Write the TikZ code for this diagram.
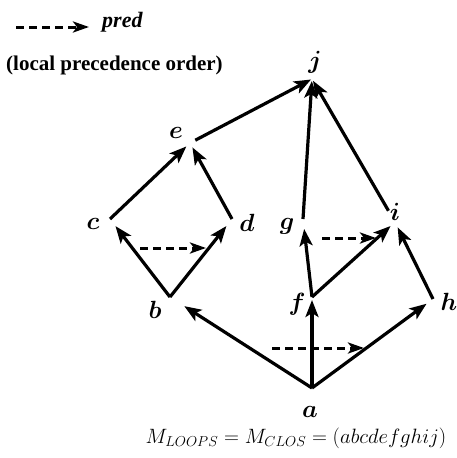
\documentclass[tikz,border=0pt]{standalone}
\usepackage{bm}
\usepackage{fontspec}
\newfontfamily\legendfont{Liberation Serif}
\usetikzlibrary{arrows.meta}
\begin{document}
\begin{tikzpicture}[x=1pt,y=-1pt,
  edge/.style={line width=3.2pt,-{Stealth[length=17pt,width=13pt,inset=4pt]}},
  predge/.style={line width=3pt,dash pattern=on 8pt off 5pt,-{Stealth[length=16pt,width=11pt,inset=4pt]}},
  lab/.style={inner sep=0pt,font=\fontsize{23}{25}\selectfont},
  legtext/.style={inner sep=0pt,anchor=west,font=\fontsize{21}{24}\selectfont\legendfont\bfseries}]
\useasboundingbox (0,0) rectangle (456,458);
% vertices
\coordinate (a) at (312,388);
\coordinate (b) at (170,297);
\coordinate (c) at (110,219);
\coordinate (d) at (232,219);
\coordinate (e) at (190,143);
\coordinate (f) at (312,297);
\coordinate (g) at (303,219);
\coordinate (h) at (433,299);
\coordinate (i) at (395,222);
\coordinate (j) at (312,79);
% labels
\node[lab] (la) at (310,412) {$\bm{a}$};
\node[lab] (lb) at (155,310) {$\bm{b}$};
\node[lab] (lc) at (93,224) {$\bm{c}$};
\node[lab] (ld) at (247,223) {$\bm{d}$};
\node[lab] (le) at (176,133) {$\bm{e}$};
\node[lab] (lf) at (297,304) {$\bm{f}$};
\node[lab] (lg) at (287,226) {$\bm{g}$};
\node[lab] (lh) at (449,302) {$\bm{h}$};
\node[lab] (li) at (395,212) {$\bm{i}$};
\node[lab] (lj) at (315,62) {$\bm{j}$};
% edges
\draw[edge,shorten >=17pt] (a) -- (b);
\draw[edge,shorten >=3pt] (a) -- (f);
\draw[edge,shorten >=8pt] (a) -- (h);
\draw[edge,shorten >=9pt] (b) -- (c);
\draw[edge,shorten >=9pt] (b) -- (d);
\draw[edge,shorten >=5pt] (c) -- (e);
\draw[edge,shorten >=5pt] (d) -- (e);
\draw[edge,shorten <=6pt,shorten >=1pt] (e) -- (j);
\draw[edge,shorten >=10pt] (f) -- (g);
\draw[edge,shorten >=6pt] (f) -- (i);
\draw[edge,shorten >=6pt] (h) -- (i);
\draw[edge,shorten >=2pt] (g) -- (j);
\draw[edge,shorten <=13pt,shorten >=2pt] (i) -- (j);
% pred (dashed) arrows
\coordinate (cd1) at (140,248); \coordinate (cd2) at (206,248);
\coordinate (gi1) at (322,238); \coordinate (gi2) at (376,238);
\coordinate (ah1) at (272,348); \coordinate (ah2) at (364,348);
\draw[predge] (cd1) -- (cd2);
\draw[predge] (gi1) -- (gi2);
\draw[predge] (ah1) -- (ah2);
% legend
\coordinate (lg1) at (16,27); \coordinate (lg2) at (89,27);
\draw[predge] (lg1) -- (lg2);
\node[legtext,font=\fontsize{22}{24}\selectfont\legendfont\bfseries\itshape] (pred) at (102,22) {pred};
\node[legtext] (order) at (6,65) {(local precedence order)};
% formula
\node[inner sep=0pt,font=\fontsize{22}{25}\selectfont] (formula) at (296,438) {$M_{LOOPS} = M_{CLOS} = (abcdefghij)$};
\end{tikzpicture}
\end{document}
